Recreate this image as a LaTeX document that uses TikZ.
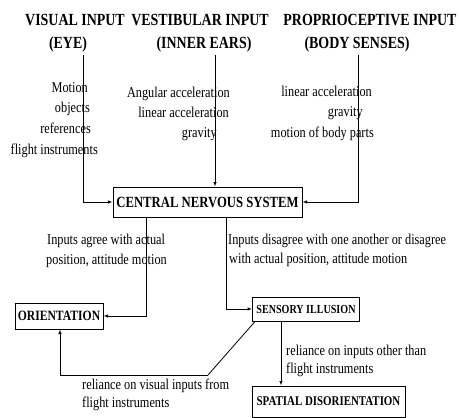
\documentclass[tikz,border=0pt]{standalone}
\usepackage{fontspec}
\setmainfont{Liberation Serif}[FakeStretch=0.82]
\usetikzlibrary{arrows.meta}
\begin{document}
\begin{tikzpicture}[x=1pt,y=-1pt,
  hdr/.style={font=\fontsize{17}{19}\selectfont\bfseries,inner sep=0pt,anchor=base},
  lbl/.style={font=\fontsize{15}{17}\selectfont,inner sep=0pt},
  boxn/.style={draw,line width=1pt,inner sep=0pt,align=center},
  conn/.style={line width=0.8pt,-{Latex[length=4.5pt,width=3.5pt]}},
  plain/.style={line width=0.8pt}]
\useasboundingbox (0,0) rectangle (459,418);
% headers
\node[hdr] (hv1) at (75,25) {VISUAL INPUT};
\node[hdr] (hv2) at (68,48) {(EYE)};
\node[hdr] (he1) at (200,25) {VESTIBULAR INPUT};
\node[hdr] (he2) at (204,48) {(INNER EARS)};
\node[hdr] (hp1) at (370,25) {PROPRIOCEPTIVE INPUT};
\node[hdr] (hp2) at (357,48) {(BODY SENSES)};
% visual labels
\node[lbl,anchor=base east] (v1) at (88,92) {Motion};
\node[lbl,anchor=base east] (v2) at (90,112) {objects};
\node[lbl,anchor=base east] (v3) at (91,133) {references};
\node[lbl,anchor=base east] (v4) at (98,154) {flight instruments};
% vestibular labels
\node[lbl,anchor=base east] (e1) at (230,97) {Angular acceleration};
\node[lbl,anchor=base east] (e2) at (229,117) {linear acceleration};
\node[lbl,anchor=base east] (e3) at (217,137) {gravity};
% proprioceptive labels
\node[lbl,anchor=base east] (p1) at (372,96) {linear acceleration};
\node[lbl,anchor=base east] (p2) at (363,116) {gravity};
\node[lbl,anchor=base east] (p3) at (374,137) {motion of body parts};
% boxes
\node[boxn,minimum width=189pt,minimum height=30pt,font=\fontsize{15.5}{17}\selectfont\bfseries] (cns) at (207.5,202) {CENTRAL NERVOUS SYSTEM};
\node[boxn,minimum width=88pt,minimum height=26pt,font=\fontsize{14.2}{16}\selectfont\bfseries] (ori) at (59,316) {ORIENTATION};
\node[boxn,minimum width=107pt,minimum height=24pt,font=\fontsize{12.3}{14}\selectfont\bfseries] (sen) at (306,309) {SENSORY ILLUSION};
\node[boxn,minimum width=153pt,minimum height=31pt,font=\fontsize{13.3}{15}\selectfont\bfseries] (spa) at (328.5,401.5) {SPATIAL DISORIENTATION};
% lower labels
\node[lbl,anchor=base west] (a1) at (47,244) {Inputs agree with actual};
\node[lbl,anchor=base west] (a2) at (46,264) {position, attitude motion};
\node[lbl,anchor=base west] (d1) at (228,244) {Inputs disagree with one another or disagree};
\node[lbl,anchor=base west] (d2) at (229,263) {with actual position, attitude motion};
\node[lbl,anchor=base west] (r1) at (286,355) {reliance on inputs other than};
\node[lbl,anchor=base west] (r2) at (286,373) {flight instruments};
\node[lbl,anchor=base west] (s1) at (82,389) {reliance on visual inputs from};
\node[lbl,anchor=base west] (s2) at (82,407) {flight instruments};
% connector start points
\coordinate (vtop) at (83,55);
\coordinate (etop) at (215,55);
\coordinate (ptop) at (358,55);
\coordinate (dbend) at (208,375);
% connectors
\draw[conn] (vtop) |- (cns.west);
\draw[conn] (etop) -- (cns.north -| etop);
\draw[conn] (ptop) |- (cns.east);
\draw[conn] (cns.south -| 146,0) |- (ori.east);
\draw[conn] (cns.south -| 226,0) |- (sen.west);
\draw[conn] (sen.south -| 281,0) -- (spa.north -| 281,0);
\draw[plain] (sen.south west) ++(3,0) coordinate (dstart) -- (dbend);
\draw[conn] (dbend) -| (ori.south -| 60,0);
\end{tikzpicture}
\end{document}
